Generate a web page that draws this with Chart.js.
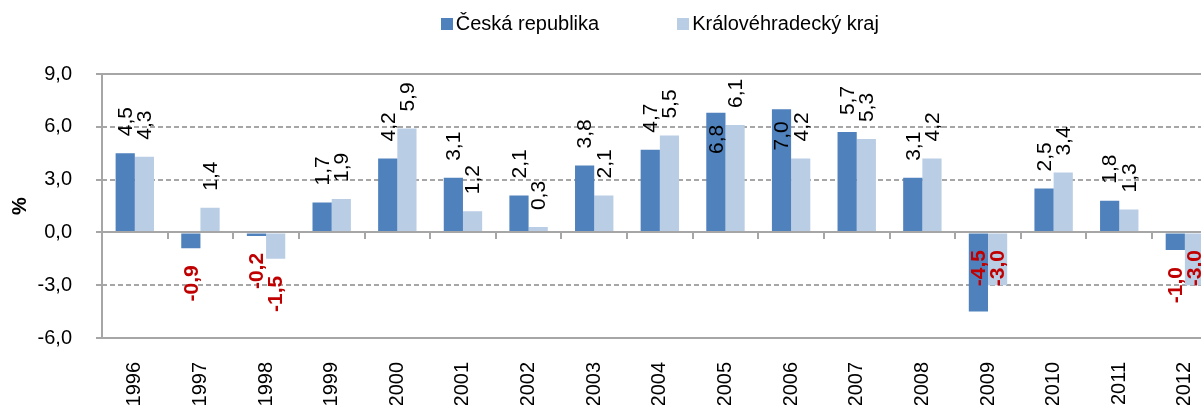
<!DOCTYPE html>
<html>
<head>
<meta charset="utf-8">
<script src="https://cdn.jsdelivr.net/npm/chart.js@4.4.0/dist/chart.umd.min.js"></script>
<style>
  html, body { margin: 0; padding: 0; background: #fff; overflow: hidden; }
  #wrap { width: 1233px; height: 405px; }
</style>
</head>
<body>
<div id="wrap"><canvas id="chart" width="1233" height="405"></canvas></div>
<script>
// data
const years = ["1996", "1997", "1998", "1999", "2000", "2001", "2002", "2003", "2004",
  "2005", "2006", "2007", "2008", "2009", "2010", "2011", "2012"];
const czValues = [4.5, -0.9, -0.2, 1.7, 4.2, 3.1, 2.1, 3.8, 4.7, 6.8, 7.0, 5.7, 3.1, -4.5, 2.5, 1.8, -1.0];
const khkValues = [4.3, 1.4, -1.5, 1.9, 5.9, 1.2, 0.3, 2.1, 5.5, 6.1, 4.2, 5.3, 4.2, -3.0, 3.4, 1.3, -3.0];
const seriesNames = ["Česká republika", "Královéhradecký kraj"];
const yTicks = [-6, -3, 0, 3, 6, 9];

const FONT = "'Liberation Sans', Arial, sans-serif";
const AXIS_GRAY = "#a6a6a6";
const fmt = (v) => v.toFixed(1).replace(".", ",");

const decorPlugin = {
  id: "decor",
  beforeDatasetsDraw(chart) {
    const { ctx, chartArea: a, scales: { y } } = chart;
    ctx.save();
    ctx.strokeStyle = AXIS_GRAY;
    ctx.lineWidth = 2;
    yTicks.forEach((v) => {
      if (v === yTicks[0] || v === 0) return;
      const py = Math.round(y.getPixelForValue(v));
      ctx.setLineDash(v === yTicks[yTicks.length - 1] ? [] : [5, 3]);
      ctx.beginPath();
      ctx.moveTo(a.left, py);
      ctx.lineTo(a.right, py);
      ctx.stroke();
    });
    ctx.restore();
  },
  afterDatasetsDraw(chart) {
    const { ctx, chartArea: a, scales: { y } } = chart;
    const y0 = Math.round(y.getPixelForValue(0));

    // zero line with category ticks
    ctx.save();
    ctx.strokeStyle = AXIS_GRAY;
    ctx.lineWidth = 2;
    ctx.beginPath();
    ctx.moveTo(a.left, y0);
    ctx.lineTo(a.right, y0);
    const step = (a.right - a.left) / years.length;
    for (let i = 1; i <= years.length; i++) {
      const px = Math.round(a.left + i * step);
      ctx.moveTo(px, y0);
      ctx.lineTo(px, y0 + 7);
    }
    ctx.stroke();
    ctx.restore();

    // value labels, rotated
    chart.data.datasets.forEach((ds, di) => {
      const meta = chart.getDatasetMeta(di);
      meta.data.forEach((bar, i) => {
        const v = ds.data[i];
        const text = fmt(v);
        ctx.save();
        ctx.font = (v < 0 ? "bold " : "") + "21px " + FONT;
        ctx.fillStyle = v < 0 ? "#c00000" : "#000";
        ctx.textBaseline = "middle";
        const w = ctx.measureText(text).width;
        let py, align;
        if (v >= 0) {
          if (bar.y - 17 - w < a.top) { py = bar.y + 12; align = "right"; }
          else { py = bar.y - 17; align = "left"; }
        } else {
          if (bar.y + 17 + w > a.bottom - 15) { py = y0 + 18; align = "right"; }
          else { py = bar.y + 17; align = "right"; }
        }
        ctx.textAlign = align;
        ctx.translate(bar.x, py);
        ctx.rotate(-Math.PI / 2);
        ctx.fillText(text, 0, 1);
        ctx.restore();
      });
    });
  },
  afterDraw(chart) {
    const { ctx, chartArea: a } = chart;
    ctx.save();
    ctx.font = "20px " + FONT;
    ctx.textBaseline = "alphabetic";
    const box = 12, gap = 3, spacing = 78;
    const widths = chart.data.datasets.map((ds) => ctx.measureText(ds.label).width);
    const total = widths.reduce((s, w) => s + box + gap + w, 0) + spacing * (widths.length - 1);
    let x = (a.left + a.right) / 2 - total / 2;
    chart.data.datasets.forEach((ds, i) => {
      ctx.fillStyle = ds.backgroundColor;
      ctx.fillRect(Math.round(x), 18, box, box);
      ctx.fillStyle = "#000";
      ctx.fillText(ds.label, x + box + gap, 30);
      x += box + gap + widths[i] + spacing;
    });
    ctx.restore();
  }
};

new Chart(document.getElementById("chart"), {
  type: "bar",
  data: {
    labels: years,
    datasets: [
      { label: seriesNames[0], data: czValues, backgroundColor: "#4f81bd",
        barPercentage: 1, categoryPercentage: 0.585 },
      { label: seriesNames[1], data: khkValues, backgroundColor: "#b9cde5",
        barPercentage: 1, categoryPercentage: 0.585 }
    ]
  },
  options: {
    responsive: false,
    animation: false,
    devicePixelRatio: 1,
    layout: { padding: { top: 74, right: 4, left: 0, bottom: 0 } },
    plugins: { legend: { display: false }, tooltip: { enabled: false } },
    scales: {
      x: {
        grid: { display: false, drawTicks: false },
        border: { display: true, color: AXIS_GRAY, width: 2 },
        ticks: {
          color: "#000", font: { family: FONT, size: 20 },
          minRotation: 90, maxRotation: 90, padding: 24, autoSkip: false
        },
        afterFit(scale) { scale.height = 67; }
      },
      y: {
        min: -6, max: 9,
        afterBuildTicks(scale) { scale.ticks = yTicks.map((v) => ({ value: v })); },
        grid: { drawOnChartArea: false, color: AXIS_GRAY, lineWidth: 2, tickLength: 6 },
        border: { display: true, color: AXIS_GRAY, width: 2 },
        ticks: {
          color: "#000", font: { family: FONT, size: 20 }, padding: 24,
          callback: (v) => fmt(v)
        },
        title: {
          display: true, text: "%", color: "#000",
          font: { family: FONT, size: 20, weight: "bold" }, padding: { top: 8 }
        },
        afterFit(scale) { scale.width = 102; }
      }
    }
  },
  plugins: [decorPlugin]
});
</script>
</body>
</html>
